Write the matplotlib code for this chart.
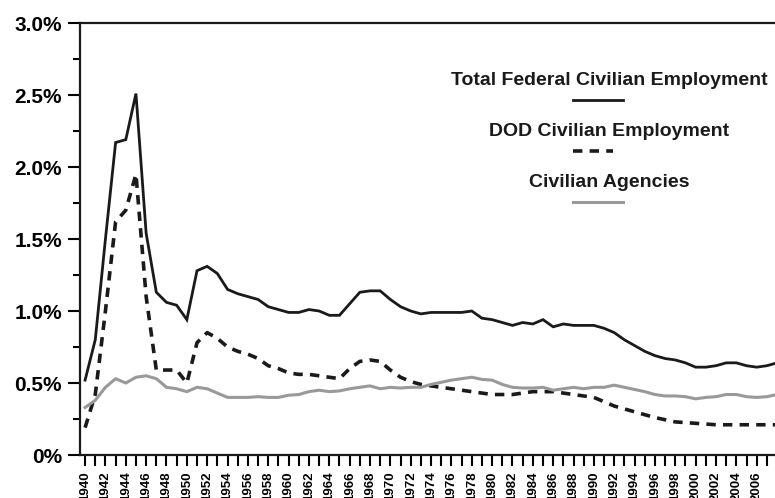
import numpy as np
import matplotlib
matplotlib.use('Agg')
import matplotlib.pyplot as plt
from matplotlib.ticker import MultipleLocator, FixedLocator

plt.rcParams['font.family'] = ['Liberation Sans', 'DejaVu Sans']
plt.rcParams['font.weight'] = 'bold'

years = list(range(1940, 2009))

# share of population, in percent
total_federal = [
    0.52, 0.80, 1.50, 2.17, 2.19, 2.51, 1.54, 1.13, 1.06, 1.04,
    0.94, 1.28, 1.31, 1.26, 1.15, 1.12, 1.10, 1.08, 1.03, 1.01,
    0.99, 0.99, 1.01, 1.00, 0.97, 0.97, 1.05, 1.13, 1.14, 1.14,
    1.08, 1.03, 1.00, 0.98, 0.99, 0.99, 0.99, 0.99, 1.00, 0.95,
    0.94, 0.92, 0.90, 0.92, 0.91, 0.94, 0.89, 0.91, 0.90, 0.90,
    0.90, 0.88, 0.85, 0.80, 0.76, 0.72, 0.69, 0.67, 0.66, 0.64,
    0.61, 0.61, 0.62, 0.64, 0.64, 0.62, 0.61, 0.62, 0.64,
]
dod_civilian = [
    0.19, 0.42, 1.00, 1.62, 1.70, 1.95, 1.10, 0.59, 0.59, 0.59,
    0.50, 0.78, 0.85, 0.81, 0.75, 0.72, 0.70, 0.67, 0.62, 0.60,
    0.57, 0.56, 0.56, 0.55, 0.54, 0.53, 0.60, 0.65, 0.66, 0.65,
    0.59, 0.54, 0.51, 0.49, 0.48, 0.47, 0.46, 0.45, 0.44, 0.43,
    0.42, 0.42, 0.42, 0.43, 0.44, 0.44, 0.44, 0.43, 0.42, 0.41,
    0.40, 0.37, 0.34, 0.32, 0.30, 0.28, 0.26, 0.245, 0.23, 0.225,
    0.22, 0.215, 0.21, 0.21, 0.21, 0.21, 0.21, 0.21, 0.21,
]
civilian_agencies = [
    0.33, 0.38, 0.47, 0.53, 0.50, 0.54, 0.55, 0.53, 0.47, 0.46,
    0.44, 0.47, 0.46, 0.43, 0.40, 0.40, 0.40, 0.405, 0.40, 0.40,
    0.415, 0.42, 0.44, 0.45, 0.44, 0.445, 0.46, 0.47, 0.48, 0.46,
    0.47, 0.465, 0.47, 0.47, 0.49, 0.505, 0.52, 0.53, 0.54, 0.525,
    0.52, 0.49, 0.47, 0.465, 0.465, 0.47, 0.45, 0.46, 0.47, 0.46,
    0.47, 0.47, 0.485, 0.47, 0.455, 0.44, 0.42, 0.41, 0.41, 0.405,
    0.39, 0.40, 0.405, 0.42, 0.42, 0.405, 0.40, 0.405, 0.42,
]

y_ticks = [0, 0.5, 1.0, 1.5, 2.0, 2.5, 3.0]
y_labels = ['0%', '0.5%', '1.0%', '1.5%', '2.0%', '2.5%', '3.0%']
x_labels = list(range(1940, 2008, 2))

fig = plt.figure(figsize=(7.75, 4.98), dpi=100)
ax = fig.add_axes([80 / 775, 1 - 455 / 498, 695 / 775, 432 / 498])

ax.plot(years, total_federal, color='#1a1a1a', lw=2.0, solid_joinstyle='miter')
ax.plot(years, dod_civilian, color='#1a1a1a', lw=2.6, dashes=(2.6, 2.0))
ax.plot(years, civilian_agencies, color='#999999', lw=2.2)

ax.set_xlim(1939.5, 2007.8)
ax.set_ylim(0, 3.0)

ax.yaxis.set_major_locator(FixedLocator(y_ticks))
ax.set_yticklabels(y_labels, fontsize=15, fontweight='bold')
ax.yaxis.set_minor_locator(MultipleLocator(0.25))

ax.xaxis.set_major_locator(FixedLocator(x_labels))
ax.set_xticklabels([str(y) for y in x_labels], rotation=90, fontsize=9.5,
                   fontweight='bold', va='top')
ax.xaxis.set_minor_locator(MultipleLocator(1))

ax.tick_params(axis='y', which='major', length=9, width=1.5, direction='out', pad=4)
ax.tick_params(axis='y', which='minor', length=5, width=1.5, direction='out')
ax.tick_params(axis='x', which='both', length=8, width=1.5, direction='out', pad=4)

for side in ['left', 'bottom', 'top']:
    ax.spines[side].set_linewidth(1.6)
    ax.spines[side].set_color('#1a1a1a')
ax.spines['right'].set_visible(False)

# legend drawn by hand: label over a line sample
tc = 0.761
ax.text(tc, 0.868, 'Total Federal Civilian Employment', transform=ax.transAxes,
        ha='center', va='center', fontsize=14, fontweight='bold', color='#1a1a1a')
ax.plot([0.709, 0.781], [0.822, 0.822], transform=ax.transAxes, color='#1a1a1a', lw=2.0)
ax.text(tc, 0.748, 'DOD Civilian Employment', transform=ax.transAxes,
        ha='center', va='center', fontsize=14, fontweight='bold', color='#1a1a1a')
ax.plot([0.709, 0.767], [0.704, 0.704], transform=ax.transAxes, color='#1a1a1a',
        lw=2.6, dashes=(2.6, 2.0))
ax.text(tc, 0.630, 'Civilian Agencies', transform=ax.transAxes,
        ha='center', va='center', fontsize=14, fontweight='bold', color='#1a1a1a')
ax.plot([0.709, 0.781], [0.586, 0.586], transform=ax.transAxes, color='#999999', lw=2.2)

fig.savefig('out.png', dpi=100)
